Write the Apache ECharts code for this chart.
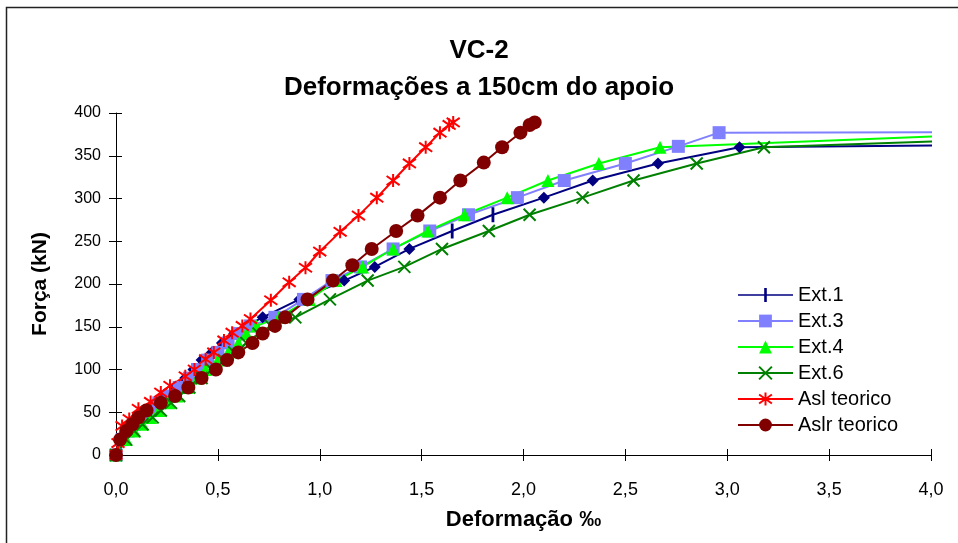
<!DOCTYPE html>
<html>
<head>
<meta charset="utf-8">
<script src="https://cdn.jsdelivr.net/npm/echarts@6/dist/echarts.min.js"></script>
<style>html,body{margin:0;padding:0;background:#fff}#c{width:958px;height:543px}</style>
</head>
<body>
<div id="c"></div>
<script>
// ---- data ----
const titleMain = 'VC-2';
const titleSub = 'Deformações a 150cm do apoio';
const xName = 'Deformação ‰';
const yName = 'Força (kN)';
const seriesNames = ['Ext.1', 'Ext.3', 'Ext.4', 'Ext.6', 'Asl teorico', 'Aslr teorico'];

const loadsExp = [0,18,28,36,44,52,61,69,79,90,100,111,120,131,142,151,161,182,204,220,241,262,281,301,321,341,360];

const ext1X = [0,0.03,0.06,0.09,0.12,0.16,0.2,0.24,0.29,0.34,0.38,0.42,0.47,0.52,0.58,0.64,0.72,0.9,1.12,1.27,1.44,1.65,1.85,2.1,2.34,2.66,3.06];
const ext1End = [4.05, 362];

const ext3Loads = [0,18,28,36,44,52,61,69,79,90,100,111,120,131,142,151,161,182,204,220,241,262,281,301,321,341,361,377];
const ext3X = [0,0.03,0.06,0.09,0.13,0.17,0.21,0.26,0.31,0.36,0.4,0.45,0.5,0.55,0.6,0.66,0.78,0.92,1.06,1.2,1.36,1.54,1.73,1.97,2.2,2.5,2.76,2.96];
const ext3End = [4.05, 377.5];

const ext4X = [0,0.05,0.09,0.13,0.17,0.21,0.26,0.3,0.35,0.4,0.44,0.5,0.55,0.6,0.64,0.69,0.8,0.95,1.08,1.21,1.36,1.53,1.71,1.92,2.12,2.37,2.67];
const ext4End = [4.05, 373];

const ext6X = [0,0.05,0.09,0.13,0.18,0.22,0.27,0.31,0.36,0.42,0.47,0.53,0.58,0.64,0.7,0.76,0.88,1.05,1.235,1.415,1.6,1.83,2.03,2.29,2.54,2.85,3.18];
const ext6End = [4.05, 367];

const aslX = [0,0.01,0.03,0.065,0.11,0.17,0.22,0.265,0.34,0.385,0.44,0.48,0.53,0.57,0.62,0.66,0.76,0.85,0.93,1.0,1.1,1.19,1.28,1.36,1.44,1.52,1.59,1.635,1.655];
const aslY = [0,14,34,42,54,62,73,81,92,100,112,120,134,143,151,159,181,202,219,238,261,280,301,321,341,360,377,386,389];

const aslrX = [0,0.02,0.05,0.08,0.11,0.15,0.22,0.29,0.355,0.42,0.49,0.545,0.6,0.67,0.72,0.78,0.83,0.94,1.065,1.16,1.255,1.375,1.48,1.59,1.69,1.805,1.895,1.985,2.03,2.055];
const aslrY = [0,18,28,36,44,52,61,69,79,90,100,111,120,131,142,151,161,182,204,222,241,262,280,301,321,342,360,377,386,389];

const xMin = 0, xMax = 4, xStep = 0.5;
const yMin = 0, yMax = 400, yStep = 50;

// ---- build ----
const FONT = 'Arial, "Liberation Sans", sans-serif';
const zip = (xs, ys) => xs.map((x, i) => [x, ys[i]]);
const withEnd = (pts, end) => pts.concat([{ value: end, symbol: 'none' }]);

const barPath = 'path://M0,0L3,0L3,16L0,16Z';
const plusLegendIcon = 'path://M0,7.2L55,7.2L55,8.8L0,8.8ZM26.2,1L28.8,1L28.8,15L26.2,15Z';
const xPath = 'path://M0,0L10,10M0,10L10,0';
const starPath = 'path://M1.5,1.5L8.5,8.5M1.5,8.5L8.5,1.5M5,0L5,10';
const plusIdx = [21, 22];

const ext1Pts = zip(ext1X, loadsExp).map((p, i) =>
  plusIdx.includes(i) ? { value: p, symbolSize: 15 } : { value: p, symbol: 'diamond', symbolSize: 12 });

const colors = ['#000080', '#8080FF', '#00FF00', '#008000', '#FF0000', '#800000'];

function mk(name, data, color, symbol, size, extra) {
  return Object.assign({
    name, type: 'line', data, symbol, symbolSize: size,
    clip: false,
    lineStyle: { color, width: 2 },
    itemStyle: { color },
    emphasis: { disabled: true },
    animation: false
  }, extra || {});
}

const series = [
  mk(seriesNames[0], withEnd(ext1Pts, ext1End), colors[0], barPath, 15, { symbolKeepAspect: true }),
  mk(seriesNames[1], withEnd(zip(ext3X, ext3Loads), ext3End), colors[1], 'rect', 13),
  mk(seriesNames[2], withEnd(zip(ext4X, loadsExp), ext4End), colors[2], 'triangle', 13),
  mk(seriesNames[3], withEnd(zip(ext6X, loadsExp), ext6End), colors[3], xPath, 12,
     { itemStyle: { color: colors[3], borderColor: colors[3], borderWidth: 2 } }),
  mk(seriesNames[4], zip(aslX, aslY), colors[4], starPath, 13,
     { itemStyle: { color: colors[4], borderColor: colors[4], borderWidth: 2 } }),
  mk(seriesNames[5], zip(aslrX, aslrY), colors[5], 'circle', 14)
];

const legendData = seriesNames.map((n, i) => i === 0 ? { name: n, icon: plusLegendIcon } : n);

const chart = echarts.init(document.getElementById('c'), null, { renderer: 'canvas' });
chart.setOption({
  backgroundColor: '#fff',
  animation: false,
  textStyle: { fontFamily: FONT },
  title: [
    { text: titleMain, left: 'center', top: 33, textStyle: { fontFamily: FONT, fontSize: 26, fontWeight: 'bold', color: '#000' } },
    { text: titleSub, left: 'center', top: 70, textStyle: { fontFamily: FONT, fontSize: 26, fontWeight: 'bold', color: '#000' } }
  ],
  grid: { left: 116, right: 27, top: 113, bottom: 88, containLabel: false },
  legend: {
    orient: 'vertical', left: 737, top: 285, padding: 0,
    itemWidth: 55, itemHeight: 16, itemGap: 6,
    textStyle: { fontFamily: FONT, fontSize: 20, lineHeight: 16, color: '#000' },
    data: legendData
  },
  xAxis: [
    {
      type: 'value', min: xMin, max: xMax, interval: xStep,
      name: xName, nameLocation: 'middle', nameGap: 54,
      nameTextStyle: { fontFamily: FONT, fontSize: 22, fontWeight: 'bold', color: '#000' },
      axisLine: { lineStyle: { color: '#000', width: 1 } },
      axisTick: { inside: false, length: 6, lineStyle: { color: '#000' } },
      axisLabel: { margin: 26, fontFamily: FONT, fontSize: 18, color: '#000', formatter: v => v.toFixed(1).replace('.', ',') },
      splitLine: { show: false }
    },
    {
      type: 'value', min: xMin, max: xMax, interval: xStep, position: 'bottom',
      axisLine: { show: false },
      axisTick: { inside: true, length: 6, lineStyle: { color: '#000' } },
      axisLabel: { show: false }, splitLine: { show: false }
    }
  ],
  yAxis: [
    {
      type: 'value', min: yMin, max: yMax, interval: yStep,
      name: yName, nameLocation: 'middle', nameGap: 65,
      nameTextStyle: { fontFamily: FONT, fontSize: 21, fontWeight: 'bold', color: '#000' },
      axisLine: { show: true, lineStyle: { color: '#000', width: 1 } },
      axisTick: { show: true, inside: false, length: 7, lineStyle: { color: '#000' } },
      axisLabel: { margin: 15, fontFamily: FONT, fontSize: 16, color: '#000' },
      splitLine: { show: false }
    },
    {
      type: 'value', min: yMin, max: yMax, interval: yStep, position: 'left',
      axisLine: { show: false },
      axisTick: { show: true, inside: true, length: 6, lineStyle: { color: '#000' } },
      axisLabel: { show: false }, splitLine: { show: false }
    }
  ],
  graphic: [
    { type: 'rect', silent: true, z: 100,
      shape: { x: 6.5, y: 7.5, width: 2000, height: 2000 },
      style: { fill: 'none', stroke: '#222', lineWidth: 1.5 } }
  ],
  series
});
</script>
</body>
</html>
